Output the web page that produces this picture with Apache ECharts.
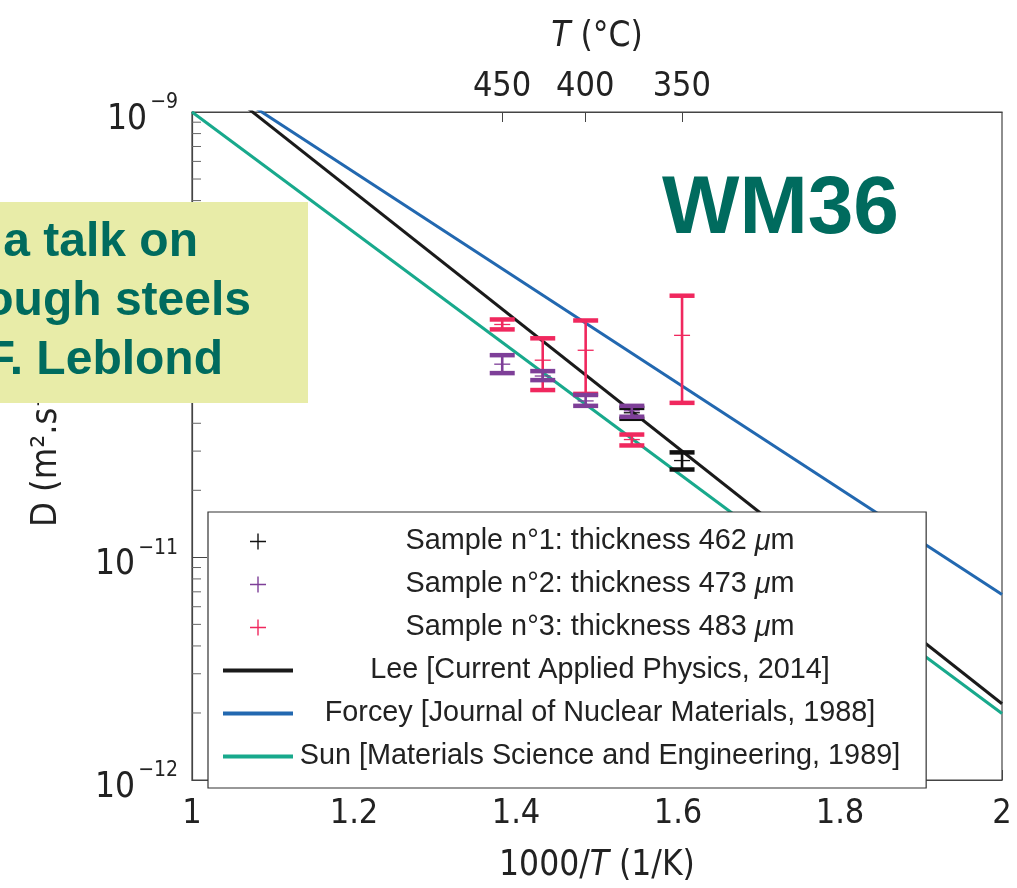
<!DOCTYPE html>
<html>
<head>
<meta charset="utf-8">
<script src="https://cdn.jsdelivr.net/npm/echarts@6/dist/echarts.min.js"></script>
<style>
  html, body { margin: 0; padding: 0; background: #fff; }
  #chart { width: 1017px; height: 888px; }
</style>
</head>
<body>
<div id="chart"></div>
<script>
// Measured diffusion coefficients: [1000/T (1/K), D, D low, D high] in m²/s
const sample1 = [
  [1.543, 4.46e-11, 4.19e-11, 4.69e-11],
  [1.605, 2.72e-11, 2.48e-11, 2.96e-11]
];
const sample2 = [
  [1.383, 7.37e-11, 6.72e-11, 8.09e-11],
  [1.433, 6.52e-11, 6.25e-11, 6.86e-11],
  [1.486, 5.04e-11, 4.79e-11, 5.36e-11],
  [1.543, 4.55e-11, 4.28e-11, 4.79e-11]
];
const sample3 = [
  [1.383, 1.111e-10, 1.056e-10, 1.170e-10],
  [1.433, 7.68e-11, 5.64e-11, 9.63e-11],
  [1.486, 8.51e-11, 5.42e-11, 1.158e-10],
  [1.543, 3.38e-11, 3.18e-11, 3.56e-11],
  [1.605, 9.93e-11, 4.94e-11, 1.496e-10]
];

// Literature Arrhenius laws, given by their values at 1000/T = 1 and 2
const lee    = [[1, 1.64e-9], [2, 2.20e-12]];
const forcey = [[1, 1.60e-9], [2, 6.81e-12]];
const sun    = [[1, 1.00e-9], [2, 1.99e-12]];

const seriesNames = [
  'Sample n°1: thickness 462 μm',
  'Sample n°2: thickness 473 μm',
  'Sample n°3: thickness 483 μm',
  'Lee [Current Applied Physics, 2014]',
  'Forcey [Journal of Nuclear Materials, 1988]',
  'Sun [Materials Science and Engineering, 1989]'
];

// Secondary axis ticks in °C
const tempTicksC = [450, 400, 350];
// Minor log ticks on the D axis
const minorTickValues = [
  2e-12, 3e-12, 4e-12, 5e-12, 6e-12, 7e-12, 8e-12, 9e-12,
  2e-11, 3e-11, 4e-11, 5e-11, 6e-11, 7e-11, 8e-11, 9e-11,
  2e-10, 3e-10, 4e-10, 5e-10, 6e-10, 7e-10, 8e-10, 9e-10
];

const colors = {
  s1: '#111111', s2: '#7e3f98', s3: '#f0285e',
  lee: '#1a1a1a', forcey: '#2268b0', sun: '#18a98c'
};

const axisFont = '"Liberation Sans Narrow", "DejaVu Sans Condensed", sans-serif';
const textFont = '"Liberation Sans", Arial, sans-serif';
const axisColor = '#444';
const slideGreen = '#006b5e';

const tempTickPositions = tempTicksC.map(c => 1000 / (c + 273.15));

function errorBarItem(params, api) {
  const x = api.value(0);
  const mid = api.coord([x, api.value(1)]);
  const lo = api.coord([x, api.value(2)]);
  const hi = api.coord([x, api.value(3)]);
  const color = api.visual('color');
  const capW = 25, capH = 4.5, tickW = 16;
  return {
    type: 'group',
    children: [
      { type: 'line', shape: { x1: mid[0], y1: lo[1], x2: mid[0], y2: hi[1] },
        style: { stroke: color, lineWidth: 2.6 } },
      { type: 'rect', shape: { x: mid[0] - capW / 2, y: hi[1] - capH / 2, width: capW, height: capH },
        style: { fill: color } },
      { type: 'rect', shape: { x: mid[0] - capW / 2, y: lo[1] - capH / 2, width: capW, height: capH },
        style: { fill: color } },
      { type: 'line', shape: { x1: mid[0] - tickW / 2, y1: mid[1], x2: mid[0] + tickW / 2, y2: mid[1] },
        style: { stroke: color, lineWidth: 1.3 } }
    ]
  };
}

function minorTickItem(params, api) {
  const p = api.coord([api.value(0), api.value(1)]);
  return {
    type: 'line',
    shape: { x1: p[0], y1: p[1], x2: p[0] + 9, y2: p[1] },
    style: { stroke: '#666', lineWidth: 1 }
  };
}

const plusIcon = 'path://M0,7.3H16V8.7H0Z M7.3,0H8.7V16H7.3Z';
const lineIcon = 'path://M0,0H70V4H0Z';

function logLabel(v) {
  const e = Math.round(Math.log10(v));
  return '{b|10}{s|' + String(e).replace('-', '−') + '}';
}

const errorSeries = (name, data, color) => ({
  name, type: 'custom', data,
  renderItem: errorBarItem,
  encode: { x: 0, y: [1, 2, 3] },
  itemStyle: { color },
  z: 3
});

const lineSeries = (name, data, color) => ({
  name, type: 'line', data,
  showSymbol: false, symbol: 'none',
  lineStyle: { color, width: 3 },
  itemStyle: { color },
  clip: true,
  z: 2
});

const chart = echarts.init(document.getElementById('chart'), null, { renderer: 'canvas' });

chart.setOption({
  animation: false,
  backgroundColor: '#fff',
  grid: {
    left: 192, right: 15, top: 112, bottom: 103,
    show: true, borderColor: axisColor, borderWidth: 1.2, backgroundColor: 'transparent'
  },
  xAxis: [
    {
      type: 'value', min: 1, max: 2, interval: 0.2, position: 'bottom',
      axisLine: { show: true, lineStyle: { color: axisColor, width: 1.2 } },
      axisTick: { show: true, inside: true, length: 10, lineStyle: { color: axisColor } },
      splitLine: { show: false },
      axisLabel: {
        fontSize: 34, fontFamily: axisFont, color: '#222', margin: 17,
        formatter: v => String(Math.round(v * 10) / 10)
      },
      name: '{n|1000/}{i|T}{n| (1/K)}',
      nameLocation: 'middle', nameGap: 68,
      nameTextStyle: {
        rich: {
          n: { fontSize: 35, fontFamily: axisFont, color: '#222' },
          i: { fontSize: 35, fontFamily: axisFont, fontStyle: 'italic', color: '#222' }
        }
      }
    },
    {
      type: 'value', min: 1, max: 2, position: 'top',
      axisLine: { show: true, lineStyle: { color: axisColor, width: 1.2 } },
      axisTick: { show: true, inside: true, length: 10, lineStyle: { color: axisColor },
        customValues: tempTickPositions },
      splitLine: { show: false },
      axisLabel: {
        fontSize: 34, fontFamily: axisFont, color: '#222', margin: 8,
        customValues: tempTickPositions,
        formatter: v => String(Math.round(1000 / v - 273.15))
      },
      name: '{i|T}{n| (°C)}',
      nameLocation: 'middle', nameGap: 58,
      nameTextStyle: {
        rich: {
          n: { fontSize: 35, fontFamily: axisFont, color: '#222' },
          i: { fontSize: 35, fontFamily: axisFont, fontStyle: 'italic', color: '#222' }
        }
      }
    }
  ],
  yAxis: {
    type: 'log', logBase: 10, min: 1e-12, max: 1e-9,
    axisLine: { show: true, lineStyle: { color: axisColor, width: 1.2 } },
    axisTick: { show: true, inside: true, length: 15, lineStyle: { color: axisColor } },
    splitLine: { show: false },
    axisLabel: {
      margin: 14,
      formatter: logLabel,
      rich: {
        b: { fontSize: 35, fontFamily: axisFont, color: '#222', padding: [16, 0, 0, 0] },
        s: { fontSize: 21, fontFamily: axisFont, color: '#222', padding: [0, 0, 18, 3] }
      }
    },
    name: 'D (m².s⁻¹)',
    nameLocation: 'middle', nameGap: 127,
    nameTextStyle: { fontSize: 36, fontFamily: axisFont, color: '#222' }
  },
  legend: {
    orient: 'vertical',
    left: 208, top: 512,
    padding: [15, 26, 17, 15],
    itemGap: 14,
    itemWidth: 70, itemHeight: 16,
    itemTextGap: 10,
    selectedMode: false,
    backgroundColor: '#fff',
    borderColor: '#333', borderWidth: 1.2, borderRadius: 0,
    z: 10,
    data: [
      { name: seriesNames[0], icon: plusIcon },
      { name: seriesNames[1], icon: plusIcon },
      { name: seriesNames[2], icon: plusIcon },
      { name: seriesNames[3], icon: lineIcon },
      { name: seriesNames[4], icon: lineIcon },
      { name: seriesNames[5], icon: lineIcon }
    ],
    formatter: name => {
      if (name.indexOf('μm') >= 0) {
        return '{t|' + name.replace(' μm', ' ') + '}{mu|μ}{t|m}';
      }
      return '{t|' + name + '}';
    },
    textStyle: {
      width: 604,
      color: '#222',
      rich: {
        t: { align: 'center', fontSize: 28.8, fontFamily: textFont, color: '#222', lineHeight: 25 },
        mu: { align: 'center', fontSize: 28.8, fontFamily: textFont, fontStyle: 'italic', color: '#222', lineHeight: 25 }
      }
    }
  },
  graphic: [
    {
      type: 'rect', z: 100,
      shape: { x: 0, y: 202, width: 308, height: 201 },
      style: { fill: '#e8eca8' }
    },
    {
      type: 'text', z: 101, x: 198, y: 243,
      style: { text: 'a talk on', textAlign: 'right', textVerticalAlign: 'middle',
        font: 'bold 48px "Liberation Sans", Arial, sans-serif', fill: slideGreen }
    },
    {
      type: 'text', z: 101, x: 251, y: 302,
      style: { text: 'ough steels', textAlign: 'right', textVerticalAlign: 'middle',
        font: 'bold 48px "Liberation Sans", Arial, sans-serif', fill: slideGreen }
    },
    {
      type: 'text', z: 101, x: 223, y: 361,
      style: { text: 'F. Leblond', textAlign: 'right', textVerticalAlign: 'middle',
        font: 'bold 48px "Liberation Sans", Arial, sans-serif', fill: slideGreen }
    },
    {
      type: 'text', z: 101, x: 662, y: 210,
      style: { text: 'WM36', textAlign: 'left', textVerticalAlign: 'middle',
        font: 'bold 82px "Liberation Sans", Arial, sans-serif', fill: slideGreen }
    }
  ],
  series: [
    {
      name: 'minor-ticks', type: 'custom',
      data: minorTickValues.map(v => [1, v]),
      renderItem: minorTickItem,
      encode: { x: 0, y: 1 },
      silent: true, z: 1
    },
    lineSeries(seriesNames[3], lee, colors.lee),
    lineSeries(seriesNames[4], forcey, colors.forcey),
    lineSeries(seriesNames[5], sun, colors.sun),
    errorSeries(seriesNames[0], sample1, colors.s1),
    errorSeries(seriesNames[2], sample3, colors.s3),
    errorSeries(seriesNames[1], sample2, colors.s2)
  ]
});
</script>
</body>
</html>
